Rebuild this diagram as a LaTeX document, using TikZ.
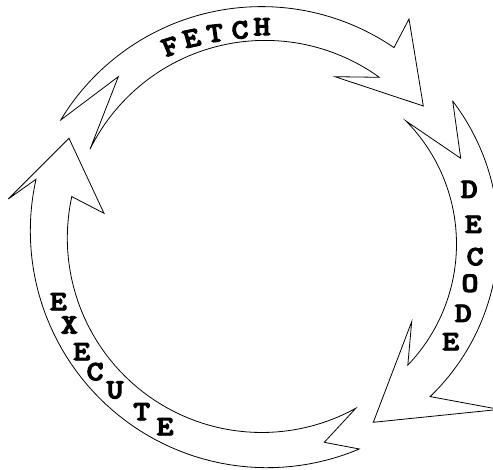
\documentclass[tikz,border=0pt]{standalone}
\usepackage{fontspec}
\newfontfamily\lettfont{lmmonolt10-bold.otf}[FakeBold=3.5]
\begin{document}
\begin{tikzpicture}[x=0.75pt,y=-0.75pt,
  arrowband/.style={draw=black, line width=0.6pt, fill=white, line join=miter},
  lett/.style={font=\lettfont\fontsize{21}{22}\selectfont, inner sep=0pt, xscale=1.15}]
\useasboundingbox (0,0) rectangle (493,470);
\clip (0,0) rectangle (493,470);
% FETCH arrow
\draw[arrowband] (60.7,120)
  -- plot[domain=-148.9:-55.6,samples=60] ({261.5+234.5*cos(\x)},{241.1+234.5*sin(\x)})
  -- (409,19) -- (423.3,106) -- (335,76.7)
  -- plot[domain=-54.2:-153.7,samples=60] ({265.1+195.3*cos(\x)},{235.7+195.3*sin(\x)})
  -- (118.3,76.7) -- cycle;
% DECODE arrow
\draw[arrowband] (452.7,101)
  -- plot[domain=-37.4:46.1,samples=60] ({275.8+222.6*cos(\x)},{236.2+222.6*sin(\x)})
  -- (499.3,409.4) -- (373.3,422.3) -- (411.7,321.7)
  -- plot[domain=43.8:-44.65,samples=60] ({281.5+175*cos(\x)},{244+175*sin(\x)})
  -- (460.7,158.3) -- cycle;
% EXECUTE arrow
\draw[arrowband] (359.3,449)
  -- plot[domain=67.1:192.6,samples=60] ({267.1+236.8*cos(\x)},{230.9+236.8*sin(\x)})
  -- (8.3,199) -- (69,138.3) -- (104,213.3)
  -- plot[domain=192.3:61.1,samples=60] ({261.8+194.5*cos(\x)},{238+194.5*sin(\x)})
  -- (324.3,442.3) -- cycle;
% FETCH letters
\node[lett,rotate=20] (f1) at (170.5,46.5) {F};
\node[lett,rotate=14] (f2) at (191.5,38.3) {E};
\node[lett,rotate=7] (f3) at (215,33.3) {T};
\node[lett,rotate=4] (f4) at (240,30) {C};
\node[lett,rotate=1] (f5) at (262,26.7) {H};
% DECODE letters
\node[lett] (d1) at (469.3,189.3) {D};
\node[lett] (d2) at (473.3,224.3) {E};
\node[lett] (d3) at (475,256.7) {C};
\node[lett] (d4) at (470,283.3) {O};
\node[lett] (d5) at (463.3,313.3) {D};
\node[lett] (d6) at (450.7,341.7) {E};
% EXECUTE letters
\node[lett] (e1) at (58.3,301.7) {E};
\node[lett] (e2) at (69.3,325) {X};
\node[lett] (e3) at (81.7,351.7) {E};
\node[lett] (e4) at (95,371.7) {C};
\node[lett] (e5) at (115,390) {U};
\node[lett] (e6) at (141.7,411.7) {T};
\node[lett] (e7) at (165,426.7) {E};
\end{tikzpicture}
\end{document}
